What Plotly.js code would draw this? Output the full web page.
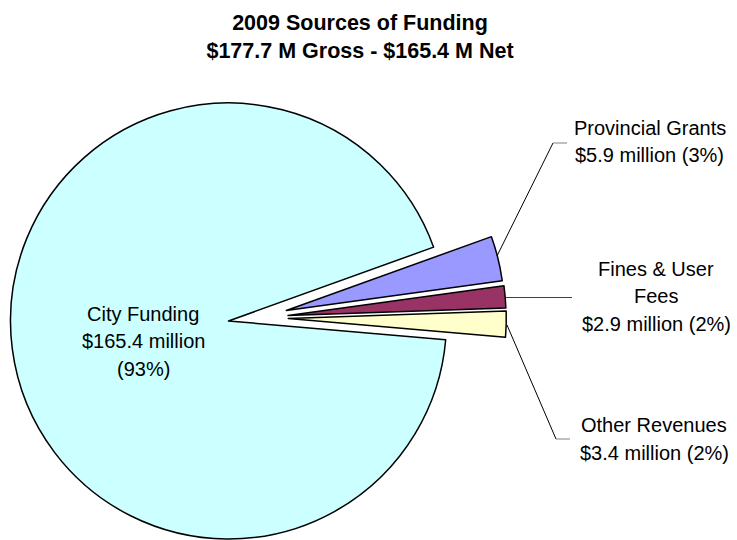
<!DOCTYPE html>
<html>
<head>
<meta charset="utf-8">
<script src="https://cdn.plot.ly/plotly-3.0.1.min.js"></script>
<style>
html,body{margin:0;padding:0;overflow:hidden;background:#fff;}
#chart{width:737px;height:540px;}
</style>
</head>
<body>
<div id="chart"></div>
<script>
// ---- data ----
const categories = ['Provincial Grants', 'Fines & User Fees', 'Other Revenues', 'City Funding'];
const valuesMillions = [5.9, 2.9, 3.4, 165.4];
const labelLines = [
  ['Provincial Grants'],
  ['Fines & User', 'Fees'],
  ['Other Revenues'],
  ['City Funding']
];
const titleLines = ['2009 Sources of Funding', '$177.7 M Gross - $165.4 M Net'];

// ---- style ----
const sliceColors = ['#9999FF', '#993366', '#FFFFCC', '#CCFFFF'];
const W = 737, H = 540, R = 218;
// pie centres (px) : index 3 = main pie, others = exploded slices
const centres = [[286.3, 310.5], [288, 315.5], [288.3, 318.5], [228.5, 321]];
const labelPos = [[649.5, 141.5], [656, 296], [654, 439], [143, 341]];
const LINE_GAP = 27.5;
const FONT = 'Liberation Sans, Arial, sans-serif';

const total = valuesMillions.reduce((a, b) => a + b, 0);
function dom(cx, cy, r) {
  return {x: [(cx - r) / W, (cx + r) / W], y: [1 - (cy + r) / H, 1 - (cy - r) / H]};
}

const order = [3, 0, 1, 2];
const traces = order.map(k => ({
  type: 'pie',
  labels: categories,
  values: valuesMillions,
  sort: false,
  direction: 'clockwise',
  rotation: 70.2,
  textinfo: 'none',
  hoverinfo: 'label+value+percent',
  showlegend: false,
  domain: dom(centres[k][0], centres[k][1], R),
  marker: {
    colors: sliceColors.map((c, i) => i === k ? c : 'rgba(0,0,0,0)'),
    line: {
      color: sliceColors.map((c, i) => i === k ? '#000000' : 'rgba(0,0,0,0)'),
      width: sliceColors.map((c, i) => i === k ? 1.5 : 0)
    }
  }
}));

const annotations = [];
categories.forEach((c, i) => {
  const pct = Math.round(valuesMillions[i] / total * 100);
  let lines = labelLines[i].slice();
  if (i === 3) {
    lines.push('$' + valuesMillions[i].toFixed(1) + ' million');
    lines.push('(' + pct + '%)');
  } else {
    lines.push('$' + valuesMillions[i].toFixed(1) + ' million (' + pct + '%)');
  }
  const n = lines.length;
  lines.forEach((t, j) => {
    const py = labelPos[i][1] + (j - (n - 1) / 2) * LINE_GAP;
    annotations.push({
      text: t,
      xref: 'paper', yref: 'paper',
      x: labelPos[i][0] / W, y: 1 - py / H,
      xanchor: 'center', yanchor: 'middle',
      showarrow: false,
      font: {family: FONT, size: 20, color: '#000000'}
    });
  });
});

function seg(x0, y0, x1, y1, col) {
  return {type: 'line', xref: 'paper', yref: 'paper',
    x0: x0 / W, y0: 1 - y0 / H, x1: x1 / W, y1: 1 - y1 / H,
    line: {color: col, width: 1}};
}
const shapes = [
  seg(497, 256, 553, 143, '#000000'),
  seg(553, 143, 567, 143, '#808080'),
  seg(506, 297.5, 572, 297.5, '#404040'),
  seg(507, 325, 556, 439, '#000000'),
  seg(556, 439, 570, 439, '#808080')
];

const layout = {
  width: W, height: H,
  margin: {l: 0, r: 0, t: 0, b: 0},
  paper_bgcolor: '#ffffff',
  plot_bgcolor: '#ffffff',
  title: {
    text: '<b>' + titleLines.join('<br>') + '</b>',
    x: 360 / W, xanchor: 'center', xref: 'container',
    y: 1 - 30 / H, yanchor: 'top', yref: 'container',
    font: {family: FONT, size: 21.5, color: '#000000'}
  },
  annotations: annotations,
  shapes: shapes
};

Plotly.newPlot('chart', traces, layout, {displayModeBar: false, staticPlot: true});
</script>
</body>
</html>
